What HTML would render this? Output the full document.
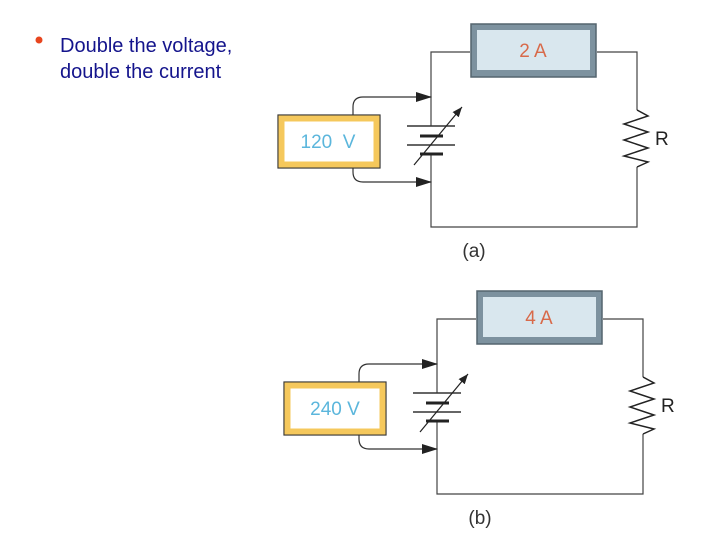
<!DOCTYPE html>
<html><head><style>
html,body{margin:0;padding:0;background:#fff;width:720px;height:540px;overflow:hidden}
</style></head><body>
<svg width="720" height="540" viewBox="0 0 720 540" xmlns="http://www.w3.org/2000/svg" style="position:absolute;left:0;top:0">
<defs>
<marker id="ah" markerWidth="10" markerHeight="8" refX="10" refY="4" orient="auto" markerUnits="userSpaceOnUse">
<path d="M0,0 L10,4 L0,8 z" fill="#222"/></marker>
<marker id="ah2" markerWidth="16" markerHeight="10" refX="15" refY="5" orient="auto" markerUnits="userSpaceOnUse">
<path d="M0,0 L16,5 L0,10 z" fill="#222"/></marker>
<g id="circ">
<path d="M470,52 H431 V126" fill="none" stroke="#444" stroke-width="1.2"/>
<path d="M431,154 V227 H637 V167" fill="none" stroke="#444" stroke-width="1.2"/>
<path d="M597,52 H637 V110" fill="none" stroke="#444" stroke-width="1.2"/>
<path d="M637,110 L648,116 L624,124 L648,132 L624,140 L648,148 L624,156 L648,162 L637,167" fill="none" stroke="#222" stroke-width="1.5"/>
<rect x="471" y="24" width="125" height="53" fill="#7d929f" stroke="#55656f" stroke-width="1.5"/>
<rect x="477" y="30" width="113" height="40" fill="#d9e7ee"/>
<rect x="278" y="115" width="102" height="53" fill="#fff" stroke="#333" stroke-width="1.2"/>
<rect x="281.5" y="118.5" width="95" height="46" fill="none" stroke="#f5c85c" stroke-width="6"/>
<path d="M353,115 V107 Q353,97 363,97 H431" fill="none" stroke="#333" stroke-width="1.2" marker-end="url(#ah2)"/>
<path d="M353,168 V172 Q353,182 363,182 H431" fill="none" stroke="#333" stroke-width="1.2" marker-end="url(#ah2)"/>
<line x1="407" y1="126" x2="455" y2="126" stroke="#333" stroke-width="1.5"/>
<line x1="420" y1="136" x2="443" y2="136" stroke="#222" stroke-width="3"/>
<line x1="407" y1="145" x2="455" y2="145" stroke="#333" stroke-width="1.5"/>
<line x1="420" y1="154" x2="443" y2="154" stroke="#222" stroke-width="3"/>
<line x1="414" y1="165" x2="462" y2="107" stroke="#222" stroke-width="1.2" marker-end="url(#ah)"/>
</g>
</defs>
<use href="#circ"/>
<text x="533" y="57" font-family="Liberation Sans, sans-serif" font-size="19" fill="#d86a4a" text-anchor="middle">2 A</text>
<text x="328" y="148" font-family="Liberation Sans, sans-serif" font-size="19" fill="#5bb6dc" text-anchor="middle" xml:space="preserve">120  V</text>
<text x="655" y="145" font-family="Liberation Sans, sans-serif" font-size="19" fill="#222">R</text>
<text x="474" y="257" font-family="Liberation Sans, sans-serif" font-size="19" fill="#333" text-anchor="middle">(a)</text>
<g transform="translate(6,267)"><use href="#circ"/></g>
<text x="539" y="324" font-family="Liberation Sans, sans-serif" font-size="19" fill="#d86a4a" text-anchor="middle">4 A</text>
<text x="335" y="415" font-family="Liberation Sans, sans-serif" font-size="19" fill="#5bb6dc" text-anchor="middle">240 V</text>
<text x="661" y="412" font-family="Liberation Sans, sans-serif" font-size="19" fill="#222">R</text>
<text x="480" y="524" font-family="Liberation Sans, sans-serif" font-size="19" fill="#333" text-anchor="middle">(b)</text>
<circle cx="39" cy="40" r="3.5" fill="#e8451e"/>
<text x="60" y="52" font-family="Liberation Sans, sans-serif" font-size="20" fill="#14148c">Double the voltage,</text>
<text x="60" y="78" font-family="Liberation Sans, sans-serif" font-size="20" fill="#14148c">double the current</text>
</svg>
</body></html>
